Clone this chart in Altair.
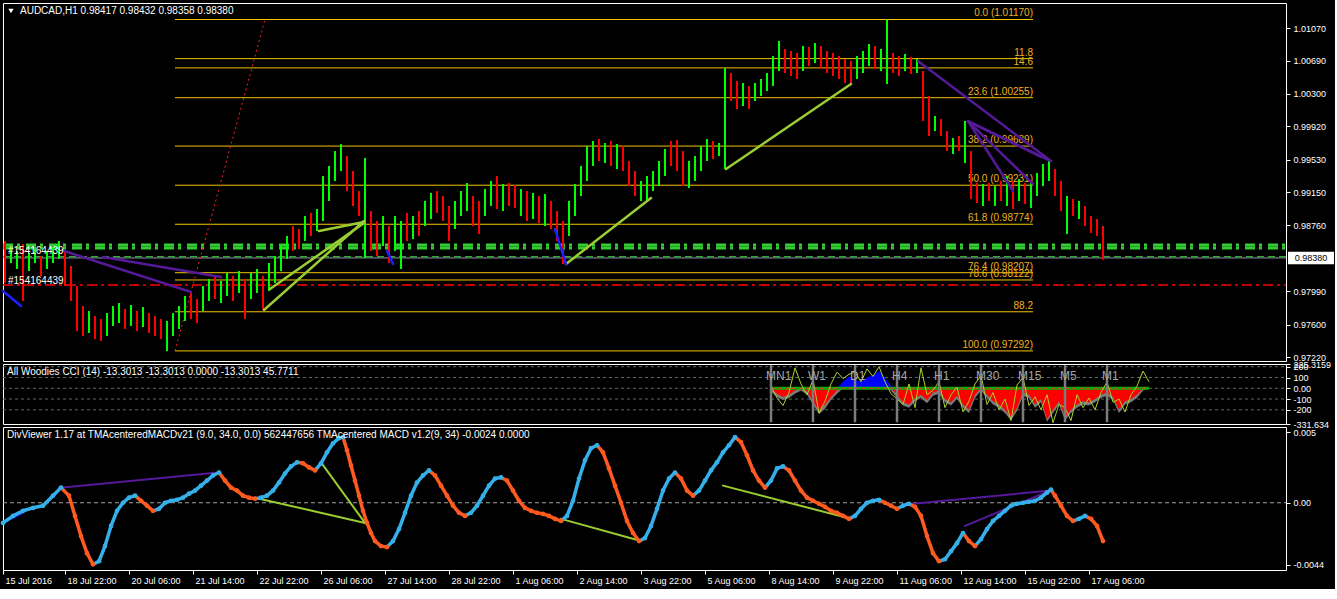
import altair as alt
import pandas as pd

FONT = "Liberation Sans"
PW = 1283
XDOM = [0, 641.5]
MAIN_DOM = [0.97174, 1.01363]
CCI_DOM = [-331.634, 225.3159]
MACD_DOM = [-0.00476, 0.00536]

# ---------------- data ----------------
candle_high = [
    0.98578, 0.98519, 0.98461, 0.98543, 0.98438, 0.98484, 0.98402, 0.98461, 0.98508, 0.98578,
    0.98461, 0.98285, 0.98051, 0.97817, 0.97759, 0.97700, 0.97665, 0.97736, 0.97817, 0.97853,
    0.97782, 0.97829, 0.97759, 0.97806, 0.97736, 0.97700, 0.97665, 0.97642, 0.97736, 0.97817,
    0.97934, 0.97993, 0.97899, 0.98051, 0.98133, 0.98157, 0.98110, 0.98204, 0.98168, 0.98227,
    0.98133, 0.98204, 0.98250, 0.98168, 0.98321, 0.98402, 0.98519, 0.98636, 0.98753, 0.98718,
    0.98870, 0.98906, 0.98952, 0.99338, 0.99455, 0.99631, 0.99713, 0.99572, 0.99397, 0.99163,
    0.99549, 0.98929, 0.98812, 0.98870, 0.98753, 0.98870, 0.98812, 0.98906, 0.98870, 0.98929,
    0.99046, 0.99140, 0.99163, 0.99104, 0.98987, 0.99046, 0.99163, 0.99257, 0.99104, 0.99046,
    0.99186, 0.99280, 0.99338, 0.99245, 0.99257, 0.99233, 0.99186, 0.99163, 0.99140, 0.99104,
    0.99128, 0.99046, 0.98929, 0.98812, 0.99046, 0.99245, 0.99455, 0.99689, 0.99748, 0.99771,
    0.99725, 0.99748, 0.99713, 0.99689, 0.99514, 0.99397, 0.99280, 0.99338, 0.99397, 0.99514,
    0.99654, 0.99748, 0.99760, 0.99631, 0.99514, 0.99572, 0.99689, 0.99771, 0.99748, 0.99725,
    1.00602, 1.00544, 1.00450, 1.00427, 1.00391, 1.00427, 1.00473, 1.00544, 1.00742, 1.00918,
    1.00824, 1.00801, 1.00778, 1.00859, 1.00848, 1.00895, 1.00859, 1.00801, 1.00778, 1.00742,
    1.00707, 1.00684, 1.00742, 1.00801, 1.00883, 1.00859, 1.00824, 1.01170, 1.00778, 1.00742,
    1.00766, 1.00731, 1.00707, 1.00567, 1.00274, 1.00040, 1.00005, 0.99865, 0.99783, 0.99806,
    0.99982, 0.99631, 0.99257, 0.99245, 0.99257, 0.99221, 0.99280, 0.99338, 0.99280, 0.99303,
    0.99257, 0.99280, 0.99374, 0.99479, 0.99514, 0.99420, 0.99280, 0.99104, 0.99069, 0.99046,
    0.98987, 0.98870, 0.98835, 0.98753,
]
candle_low = [
    0.98087, 0.98321, 0.98250, 0.97876, 0.98227, 0.98321, 0.98168, 0.98250, 0.98321, 0.98367,
    0.98051, 0.97876, 0.97525, 0.97466, 0.97502, 0.97431, 0.97408, 0.97466, 0.97583, 0.97619,
    0.97548, 0.97583, 0.97525, 0.97572, 0.97502, 0.97466, 0.97431, 0.97292, 0.97466, 0.97548,
    0.97642, 0.97665, 0.97619, 0.97759, 0.97876, 0.97899, 0.97853, 0.97934, 0.97876, 0.97970,
    0.97665, 0.97899, 0.97970, 0.97771, 0.97993, 0.98087, 0.98227, 0.98367, 0.98461, 0.98484,
    0.98578, 0.98636, 0.98695, 0.98812, 0.99046, 0.99280, 0.99397, 0.99163, 0.98987, 0.98870,
    0.98379, 0.98461, 0.98402, 0.98519, 0.98321, 0.98461, 0.98250, 0.98578, 0.98601, 0.98636,
    0.98753, 0.98835, 0.98906, 0.98812, 0.98578, 0.98718, 0.98870, 0.98929, 0.98753, 0.98660,
    0.98870, 0.98987, 0.98952, 0.98929, 0.98987, 0.98964, 0.98870, 0.98812, 0.98835, 0.98789,
    0.98753, 0.98718, 0.98578, 0.98309, 0.98636, 0.98870, 0.99104, 0.99280, 0.99455, 0.99514,
    0.99491, 0.99455, 0.99420, 0.99397, 0.99221, 0.99104, 0.99046, 0.99046, 0.99163, 0.99221,
    0.99338, 0.99455, 0.99397, 0.99221, 0.99198, 0.99280, 0.99397, 0.99514, 0.99537, 0.99572,
    0.99420, 1.00216, 1.00122, 1.00157, 1.00122, 1.00216, 1.00274, 1.00333, 1.00391, 1.00567,
    1.00544, 1.00508, 1.00473, 1.00567, 1.00625, 1.00661, 1.00590, 1.00544, 1.00508, 1.00473,
    1.00427, 1.00415, 1.00473, 1.00544, 1.00625, 1.00590, 1.00567, 1.00415, 1.00544, 1.00508,
    1.00567, 1.00532, 1.00544, 0.99982, 0.99806, 0.99865, 0.99806, 0.99631, 0.99596, 0.99631,
    0.99491, 0.99069, 0.99023, 0.98987, 0.99046, 0.98987, 0.99046, 0.98987, 0.98952, 0.99046,
    0.99011, 0.98964, 0.99104, 0.99221, 0.99280, 0.99104, 0.98929, 0.98660, 0.98870, 0.98835,
    0.98753, 0.98672, 0.98636, 0.98358,
]
candle_dir = ("rggrggrggg" "rrrrgrrggg" "rgrgrrrggg" "grrggrggrg" "rggrggggrr"
              "grgggggrrr" "grrgrggrgr" "ggrrrgggrr" "ggrgrrgrgr" "grrrgggggr"
              "grgrrrgggg" "grrrggggrg" "grrgrggggg" "rrrgrgrrrr" "rrgggrggrr"
              "grgrrgrrgr" "grrgrgrgrg" "rggggrrgrg" "rrrr")

fib_labels = ["0.0 (1.01170)", "11.8", "14.6", "23.6 (1.00255)", "38.2 (0.99689)",
              "50.0 (0.99231)", "61.8 (0.98774)", "76.4 (0.98207)", "78.6 (0.98122)",
              "88.2", "100.0 (0.97292)"]
fib_prices = [1.01170, 1.00712, 1.00604, 1.00255, 0.99689, 0.99231, 0.98774,
              0.98207, 0.98122, 0.97750, 0.97292]
fib_span = [86, 515]
fib_ray = {"x1": 86, "p1": 0.97292, "x2": 131, "p2": 1.01170}

green_dd_prices = [0.98531, 0.98496]
green_dash_price = [0.98395]
bid_price = 0.98380
red_dd_price = [0.98063]

price_ticks = [1.01070, 1.00690, 1.00300, 0.99920, 0.99530, 0.99150, 0.98760,
               0.97990, 0.97600, 0.97220]

main_seg_x1 = [30.5, 50, 130.5, 133.5, 158, 281.5, 361.5, 457.5, 482.5, 482.5, 482.5, 482.5, 0, 192, 276]
main_seg_p1 = [0.98461, 0.98391, 0.97771, 0.98016, 0.98695, 0.98309, 0.99420, 1.00684,
               0.99982, 0.99982, 0.99982, 0.99982, 0.97993, 0.98461, 0.98718]
main_seg_x2 = [94, 109, 180.5, 180.5, 180.5, 324, 424, 524, 524, 519, 505, 515, 9, 195, 281.5]
main_seg_p2 = [0.97981, 0.98157, 0.98812, 0.98789, 0.98800, 0.99081, 1.00415, 0.99514,
               0.99514, 0.99561, 0.99163, 0.99245, 0.97817, 0.98309, 0.98309]
main_seg_kind = ["purple", "purple", "yg", "yg", "yg", "yg", "yg", "purple",
                 "purple", "purple", "purple", "purple", "blue", "blue", "blue"]

order_tags = ["#154164439", "#154164439"]
order_tag_prices = [0.98461, 0.98110]

main_header = "AUDCAD,H1  0.98417 0.98432 0.98358 0.98380"

# CCI (MTF woodies)
cci_hist = [-10, -50, -80, -60, -20, 0, -30, -120, -210, -150, -80, -20, 60, 110,
            80, 60, 100, 120, 160, 100, 20, -60, -130, -150, -90, -60, -110, -40,
            -20, -100, -130, -70, -150, -200, -60, 30, -60, -120, -150, -200, -270, -180,
            -40, -60, -150, -100, -290, -200, -120, -270, -200, -150, -120, -130, -100, -60,
            -40, -80, -200, -120, -100, -60, 0, 0]
cci_shadow = [-30, -80, -110, -90, -50, -20, -60, -150, -240, -190, -110, -50, 0, 20,
              20, 10, 20, 30, 40, 20, -20, -90, -160, -180, -120, -90, -140, -70,
              -50, -130, -160, -100, -180, -230, -90, -20, -90, -150, -180, -230, -300, -210,
              -70, -90, -180, -130, -310, -230, -150, -300, -230, -180, -150, -160, -130, -90,
              -70, -110, -230, -150, -130, -90, -20, 0]
cci_line = [20, -90, -160, -40, 190, 40, -60, 80, -230, -120, 40, 150, 90, 130,
            150, 60, 180, 110, 200, 60, -50, -100, -150, 40, -180, 190, -60, -20,
            60, -180, -60, 10, -220, -120, 40, 120, -150, -40, -200, -100, -300, 30,
            100, -160, -80, -200, -60, -320, -150, -180, -300, -60, -180, -90, -200, -40,
            60, -130, -100, -220, -60, 20, 160, 60]
cci_tf_labels = ["MN1", "W1", "D1", "H4", "H1", "M30", "M15", "M5", "M1"]
cci_tf_bars = [384, 405, 426, 447, 468, 489, 510, 531, 552]
cci_ticks = [225.3159, 200, 100, 0, -100, -200, -331.634]
cci_grid = [200, 100, 0, -100, -200]
cci_header = "All Woodies CCI (14) -13.3013 -13.3013 0.0000 -13.3013 45.7711"

# TMA centered MACD
macd_bar = [0, 5, 10, 15, 20, 25, 29, 33, 36, 39, 42, 45, 48, 51, 54, 57, 60, 63, 66, 69,
            72, 75, 78, 81, 84, 87, 90, 93, 96, 99, 102, 105, 108, 111, 114, 117, 120, 123,
            126, 129, 132, 135, 138, 141, 144, 147, 150, 153, 156, 159, 162, 165, 168, 170,
            172, 174, 176, 178, 180, 182, 184, 186, 189, 192, 195, 198, 201, 204, 207, 210,
            213, 216, 219, 222, 225, 228, 231, 234, 237, 240, 243, 246, 249, 252, 255, 258,
            261, 264, 267, 270, 273, 276, 279, 282, 285, 288, 291, 294, 297, 300, 303, 306,
            309, 312, 315, 318, 321, 324, 327, 330, 333, 336, 339, 342, 345, 348, 351, 354,
            357, 360, 363, 366, 369, 372, 375, 378, 381, 384, 387, 390, 393, 396, 399, 402,
            405, 408, 411, 414, 417, 420, 423, 426, 429, 432, 435, 438, 441, 444, 447, 450,
            453, 456, 459, 462, 465, 468, 471, 474, 477, 480, 483, 486, 489, 492, 495, 498,
            501, 504, 507, 510, 513, 516, 519, 522, 524, 526, 529, 532, 535, 538, 541, 544,
            547, 550]
macd_val = [-0.00143, -0.00093, -0.00057, -0.00036, -0.00021, 0.00050, 0.00107, 0.00050,
            -0.00093, -0.00236, -0.00357, -0.00436, -0.00414, -0.00307, -0.00164, -0.00057,
            0.00000, 0.00036, 0.00050, 0.00014, -0.00021, -0.00057, -0.00043, 0.00000,
            0.00014, 0.00021, 0.00036, 0.00064, 0.00086, 0.00121, 0.00157, 0.00193, 0.00214,
            0.00157, 0.00107, 0.00086, 0.00050, 0.00036, 0.00029, 0.00036, 0.00050, 0.00086,
            0.00143, 0.00207, 0.00257, 0.00286, 0.00279, 0.00250, 0.00229, 0.00279, 0.00357,
            0.00421, 0.00457, 0.00464, 0.00371, 0.00264, 0.00157, 0.00050, -0.00057, -0.00143,
            -0.00214, -0.00271, -0.00307, -0.00314, -0.00271, -0.00186, -0.00071, 0.00050,
            0.00143, 0.00193, 0.00229, 0.00193, 0.00121, 0.00050, -0.00021, -0.00071, -0.00093,
            -0.00071, -0.00021, 0.00050, 0.00121, 0.00171, 0.00179, 0.00157, 0.00086, 0.00014,
            -0.00036, -0.00057, -0.00071, -0.00079, -0.00093, -0.00114, -0.00129, -0.00093,
            0.00014, 0.00171, 0.00300, 0.00386, 0.00407, 0.00357, 0.00243, 0.00121, 0.00000,
            -0.00129, -0.00214, -0.00271, -0.00250, -0.00164, -0.00043, 0.00086, 0.00171,
            0.00214, 0.00171, 0.00086, 0.00050, 0.00086, 0.00157, 0.00229, 0.00286, 0.00357,
            0.00407, 0.00464, 0.00429, 0.00336, 0.00229, 0.00157, 0.00107, 0.00157, 0.00243,
            0.00257, 0.00229, 0.00157, 0.00086, 0.00036, 0.00014, -0.00007, -0.00029, -0.00057,
            -0.00071, -0.00093, -0.00114, -0.00093, -0.00043, 0.00000, 0.00014, 0.00021,
            0.00000, -0.00021, -0.00043, -0.00021, -0.00007, -0.00029, -0.00093, -0.00236,
            -0.00357, -0.00414, -0.00400, -0.00343, -0.00286, -0.00214, -0.00271, -0.00307,
            -0.00257, -0.00186, -0.00129, -0.00093, -0.00057, -0.00021, -0.00007, 0.00000,
            0.00007, 0.00014, 0.00036, 0.00071, 0.00093, 0.00050, -0.00021, -0.00093, -0.00129,
            -0.00114, -0.00093, -0.00114, -0.00164, -0.00271]

macd_seg_x1 = [30, 126, 159, 279, 360, 455, 481, 0]
macd_seg_v1 = [0.00107, 0.00036, 0.00286, -0.00114, 0.00121, -0.00007, -0.00164, -0.00143]
macd_seg_x2 = [107.5, 181, 181, 319, 424, 523.5, 523.5, 10]
macd_seg_v2 = [0.00214, -0.00143, -0.00143, -0.00271, -0.00114, 0.00086, 0.00086, -0.00071]
macd_seg_kind = ["purple", "yg", "yg", "yg", "yg", "purple", "purple", "blue"]
macd_ticks = [0.005, 0, -0.0044]
macd_header = ("DivViewer 1.17 at TMAcenteredMACDv21 (9.0, 34.0, 0.0) 562447656  "
               "TMAcentered MACD v1.2(9, 34) -0.0024 0.0000")

time_labels = ["15 Jul 2016", "18 Jul 22:00", "20 Jul 06:00", "21 Jul 14:00", "22 Jul 22:00",
               "26 Jul 06:00", "27 Jul 14:00", "28 Jul 22:00", "1 Aug 06:00", "2 Aug 14:00",
               "3 Aug 22:00", "5 Aug 06:00", "8 Aug 14:00", "9 Aug 22:00", "11 Aug 06:00",
               "12 Aug 14:00", "15 Aug 22:00", "17 Aug 06:00"]
time_tick_bars = [0, 31, 63, 95, 127, 159, 191, 223, 255, 287, 319, 351, 383, 415, 447,
                  479, 511, 543]

# ---------------- colours ----------------
UP, DN = "#00FF00", "#FF0000"
FIB_LINE, FIB_TXT = "#F5C400", "#F0B020"
KIND_COLORS = {"purple": "#55199A", "yg": "#9ACD32", "blue": "#1E1EFF"}
MACD_UP, MACD_DN = "#35B0EA", "#FF5A1F"

# ---------------- helpers ----------------
xscale = alt.Scale(domain=XDOM, nice=False, zero=False)


def xenc(field, axis=None):
    return alt.X(f"{field}:Q", scale=xscale, axis=axis)


def axis_right(values, **kw):
    return alt.Axis(orient="right", values=values, labelColor="white", labelFont=FONT,
                    labelFontSize=9, tickColor="white", tickSize=4, domain=False,
                    grid=False, title=None, labelPadding=3, labelOverlap=False,
                    labelFlush=False, minExtent=47, maxExtent=47, **kw)


main_axis = axis_right(price_ticks, format=".5f")
cci_axis = axis_right(cci_ticks, labelExpr="datum.value == 0 ? '0.00' : toString(datum.value)")
macd_axis = axis_right(macd_ticks, labelExpr="datum.value == 0 ? '0.00' : toString(datum.value)")

label_js = "[" + ",".join("'" + t + "'" for t in time_labels) + "]"
time_axis = alt.Axis(values=time_tick_bars,
                     labelExpr=label_js + "[round((datum.value + 1) / 32)]",
                     labelAlign="left", labelBaseline="top", labelPadding=2, labelOffset=2,
                     labelColor="white", labelFont=FONT, labelFontSize=9,
                     tickColor="white", tickSize=4, domain=False, grid=False, title=None,
                     labelOverlap=False, labelFlush=False, labelBound=False,
                     minExtent=18, maxExtent=18)


def ymain(field):
    return alt.Y(f"{field}:Q", scale=alt.Scale(domain=MAIN_DOM, nice=False, zero=False), axis=main_axis)


def ycci(field):
    return alt.Y(f"{field}:Q", scale=alt.Scale(domain=CCI_DOM, nice=False, zero=False), axis=cci_axis)


def ymacd(field):
    return alt.Y(f"{field}:Q", scale=alt.Scale(domain=MACD_DOM, nice=False, zero=False), axis=macd_axis)


def hlines(prices, a=XDOM[0], b=XDOM[1]):
    return pd.DataFrame({"price": prices, "a": a, "b": b})


def seg_df(x1, v1, x2, v2, kind):
    return pd.DataFrame({"x1": x1, "v1": v1, "x2": x2, "v2": v2,
                         "col": [KIND_COLORS[k] for k in kind]})


# ---------------- main panel ----------------
candles = pd.DataFrame({"bar": [1 + 3 * i for i in range(len(candle_high))],
                        "high": candle_high, "low": candle_low,
                        "col": [UP if d == "g" else DN for d in candle_dir]})

fib_df = pd.DataFrame({"price": fib_prices, "label": fib_labels,
                       "a": fib_span[0], "b": fib_span[1]})

layers = []
layers.append(alt.Chart(hlines(green_dd_prices)).mark_rule(color="#32CD32", strokeWidth=3, strokeDash=[10, 4, 3, 6])
              .encode(x=xenc("a"), x2="b", y=ymain("price")))
layers.append(alt.Chart(hlines(green_dash_price)).mark_rule(color="#32CD32", strokeWidth=1, strokeDash=[7, 4])
              .encode(x=xenc("a"), x2="b", y=ymain("price")))
layers.append(alt.Chart(hlines([bid_price])).mark_rule(color="#8A9AA8", strokeWidth=1)
              .encode(x=xenc("a"), x2="b", y=ymain("price")))
layers.append(alt.Chart(hlines(red_dd_price)).mark_rule(color="#FF0000", strokeWidth=1.5, strokeDash=[10, 4, 3, 4])
              .encode(x=xenc("a"), x2="b", y=ymain("price")))
layers.append(alt.Chart(fib_df).mark_rule(color=FIB_LINE, strokeWidth=1)
              .encode(x=xenc("a"), x2="b", y=ymain("price")))
layers.append(alt.Chart(fib_df).mark_text(align="right", baseline="bottom", dy=-1, color=FIB_TXT,
                                          font=FONT, fontSize=10)
              .encode(x=xenc("b"), y=ymain("price"), text="label"))
layers.append(alt.Chart(pd.DataFrame([fib_ray])).mark_rule(color="#FF2020", strokeWidth=1, strokeDash=[2, 3])
              .encode(x=xenc("x1"), x2="x2", y=ymain("p1"), y2="p2"))
layers.append(alt.Chart(candles).mark_rule(strokeWidth=2)
              .encode(x=xenc("bar"), y=ymain("low"), y2="high", color=alt.Color("col:N", scale=None)))
layers.append(alt.Chart(seg_df(main_seg_x1, main_seg_p1, main_seg_x2, main_seg_p2, main_seg_kind))
              .mark_rule(strokeWidth=2.5, strokeCap="round")
              .encode(x=xenc("x1"), x2="x2", y=ymain("v1"), y2="v2", color=alt.Color("col:N", scale=None)))
layers.append(alt.Chart(pd.DataFrame({"t": order_tags, "price": order_tag_prices, "bar": 2.5}))
              .mark_text(align="left", baseline="middle", color="white", font=FONT, fontSize=10)
              .encode(x=xenc("bar"), y=ymain("price"), text="t"))
layers.append(alt.Chart(pd.DataFrame({"price": [bid_price], "bar": [654]}))
              .mark_point(shape="M-1,-0.27L1,-0.27L1,0.27L-1,0.27Z", filled=True, color="white",
                          opacity=1, size=2116)
              .encode(x=xenc("bar"), y=ymain("price")))
layers.append(alt.Chart(pd.DataFrame({"price": [bid_price], "bar": [654], "t": ["%.5f" % bid_price]}))
              .mark_text(align="center", baseline="middle", color="black", font=FONT, fontSize=9)
              .encode(x=xenc("bar"), y=ymain("price"), text="t"))
layers.append(alt.Chart(pd.DataFrame({"t": [main_header]}))
              .mark_text(align="left", baseline="middle", color="white", font=FONT, fontSize=10)
              .encode(x=alt.value(17), y=alt.value(8), text="t"))
layers.append(alt.Chart(pd.DataFrame({"t": ["v"]}))
              .mark_point(shape="triangle-down", filled=True, color="white", opacity=1, size=28)
              .encode(x=alt.value(8), y=alt.value(8)))

main = alt.layer(*layers).properties(width=PW, height=358)

# ---------------- CCI panel ----------------
cci_df = pd.DataFrame({"bar": [384 + 3 * k for k in range(len(cci_hist))],
                       "hist": cci_hist, "line": cci_line, "shadow": cci_shadow})
cci_df["neg"] = cci_df["hist"].clip(upper=0)
cci_df["pos"] = cci_df["hist"].clip(lower=0)
cci_df["zero"] = 0
cci_end = cci_df["bar"].max()

sep_df = pd.DataFrame({"bar": cci_tf_bars, "lo": -315.0, "hi": 215.0})
tf_df = pd.DataFrame({"bar": [b - 2.5 for b in cci_tf_bars], "v": 112.0, "t": cci_tf_labels})

cci_layers = [
    alt.Chart(hlines(cci_grid)).mark_rule(color="#5A6B6B", strokeWidth=1, strokeDash=[3, 3])
    .encode(x=xenc("a"), x2="b", y=ycci("price")),
    alt.Chart(cci_df).mark_area(color="#7A7A7A", opacity=1)
    .encode(x=xenc("bar"), y=ycci("shadow"), y2="zero"),
    alt.Chart(cci_df).mark_area(color="#FF0000", opacity=1)
    .encode(x=xenc("bar"), y=ycci("neg"), y2="zero"),
    alt.Chart(cci_df).mark_area(color="#0000FF", opacity=1)
    .encode(x=xenc("bar"), y=ycci("pos"), y2="zero"),
    alt.Chart(hlines([0], cci_tf_bars[0], cci_end)).mark_rule(color="#00B000", strokeWidth=3)
    .encode(x=xenc("a"), x2="b", y=ycci("price")),
    alt.Chart(hlines([0], cci_tf_bars[0], cci_end)).mark_rule(color="#FF3030", strokeWidth=1, strokeDash=[4, 3])
    .encode(x=xenc("a"), x2="b", y=ycci("price")),
    alt.Chart(cci_df).mark_line(color="#A8D42E", strokeWidth=1)
    .encode(x=xenc("bar"), y=ycci("line")),
    alt.Chart(sep_df).mark_rule(color="#7C7C7C", strokeWidth=2.5)
    .encode(x=xenc("bar"), y=ycci("lo"), y2="hi"),
    alt.Chart(tf_df).mark_text(align="left", baseline="middle", color="#A6A6A6", font=FONT, fontSize=12)
    .encode(x=xenc("bar"), y=ycci("v"), text="t"),
    alt.Chart(pd.DataFrame({"t": [cci_header]}))
    .mark_text(align="left", baseline="middle", color="white", font=FONT, fontSize=10)
    .encode(x=alt.value(4), y=alt.value(8), text="t"),
]
cci = alt.layer(*cci_layers).properties(width=PW, height=60)

# ---------------- MACD panel ----------------
mseg = pd.DataFrame({"x1": macd_bar[:-1], "x2": macd_bar[1:],
                     "v1": macd_val[:-1], "v2": macd_val[1:]})
mseg["col"] = [MACD_UP if b >= a else MACD_DN for a, b in zip(macd_val[:-1], macd_val[1:])]
mpts = pd.DataFrame({"bar": macd_bar, "v": macd_val})
mpts["col"] = [MACD_UP] + [MACD_UP if b >= a else MACD_DN for a, b in zip(macd_val[:-1], macd_val[1:])]


def tx(field):
    return xenc(field, axis=time_axis)


macd_layers = [
    alt.Chart(hlines([0])).mark_rule(color="#A0A0A0", strokeWidth=1, strokeDash=[4, 3])
    .encode(x=tx("a"), x2="b", y=ymacd("price")),
    alt.Chart(seg_df(macd_seg_x1, macd_seg_v1, macd_seg_x2, macd_seg_v2, macd_seg_kind))
    .mark_rule(strokeWidth=2, strokeCap="round")
    .encode(x=tx("x1"), x2="x2", y=ymacd("v1"), y2="v2", color=alt.Color("col:N", scale=None)),
    alt.Chart(mseg).mark_rule(strokeWidth=3.5, strokeCap="round")
    .encode(x=tx("x1"), x2="x2", y=ymacd("v1"), y2="v2", color=alt.Color("col:N", scale=None)),
    alt.Chart(mpts).mark_point(filled=True, opacity=1, size=22, shape="circle")
    .encode(x=tx("bar"), y=ymacd("v"), color=alt.Color("col:N", scale=None)),
    alt.Chart(pd.DataFrame({"t": [macd_header]}))
    .mark_text(align="left", baseline="middle", color="white", font=FONT, fontSize=10)
    .encode(x=alt.value(4), y=alt.value(8), text="t"),
]
macd = alt.layer(*macd_layers).properties(width=PW, height=143)

chart = (alt.vconcat(main, cci, macd, spacing=3, bounds="flush")
         .properties(padding={"left": 0, "top": 2, "right": 0, "bottom": 0})
         .configure(background="black", font=FONT)
         .configure_view(stroke="white", strokeWidth=1))

chart.save("out.html", embed_options={"renderer": "svg", "actions": False})
